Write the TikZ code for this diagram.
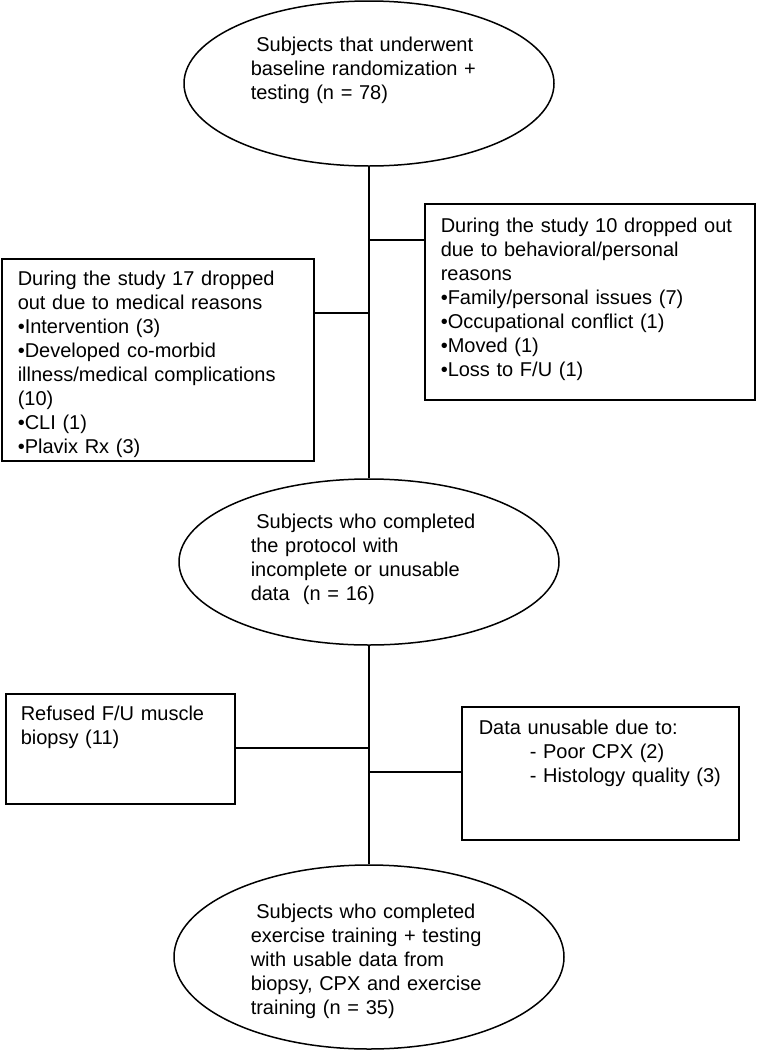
\documentclass[tikz,border=0pt]{standalone}
\usepackage{fontspec}
\setmainfont{Liberation Sans}
\usetikzlibrary{shapes.geometric}
\begin{document}
\begin{tikzpicture}[x=1pt,y=-1pt,
  line width=1.5pt,
  oval/.style={draw,ellipse,inner sep=0pt},
  boxnode/.style={draw,rectangle,inner sep=0pt,anchor=north west},
  txt/.style={anchor=base west,inner sep=0pt,align=left,text width=#1,
    font=\fontsize{20}{24}\selectfont},
  txt/.default=300pt
]
\useasboundingbox (0,0) rectangle (756,1050);
% ellipses
\node[oval,minimum width=370pt,minimum height=165pt] (e1) at (369,83.5) {};
\node[oval,minimum width=380pt,minimum height=166pt] (e2) at (369,562) {};
\node[oval,minimum width=390pt,minimum height=184pt] (e3) at (369,957) {};
% boxes
\node[boxnode,minimum width=330pt,minimum height=196pt] (rb1) at (424,203) {};
\node[boxnode,minimum width=312pt,minimum height=202pt] (lb1) at (1,258) {};
\node[boxnode,minimum width=229pt,minimum height=110pt] (lb2) at (5,693) {};
\node[boxnode,minimum width=277pt,minimum height=133pt] (rb2) at (461,706) {};
% texts
\node[txt] (e1t) at (250,51) {\hspace*{5.6pt}Subjects that underwent\\baseline randomization +\\testing (n = 78)};
\node[txt] (e2t) at (250,528) {\hspace*{5.6pt}Subjects who completed\\the protocol with\\incomplete or unusable\\data~ (n = 16)};
\node[txt] (e3t) at (250,918) {\hspace*{5.6pt}Subjects who completed\\exercise training + testing\\with usable data from\\biopsy, CPX and exercise\\training (n = 35)};
\node[txt=310pt] (rb1t) at (440,232) {During the study 10 dropped out\\due to behavioral/personal\\reasons\\•Family/personal issues (7)\\•Occupational conflict (1)\\•Moved (1)\\•Loss to F/U (1)};
\node[txt] (lb1t) at (17,285) {During the study 17 dropped\\out due to medical reasons\\•Intervention (3)\\•Developed co-morbid\\illness/medical complications\\(10)\\•CLI (1)\\•Plavix Rx (3)};
\node[txt] (lb2t) at (20,720) {Refused F/U muscle\\biopsy (11)};
\node[txt=270pt] (rb2t) at (478,734) {Data unusable due to:\\\hspace*{51pt}- Poor CPX (2)\\\hspace*{51pt}- Histology quality (3)};
% connectors
\coordinate (j1) at (369,240);
\coordinate (j2) at (369,313);
\coordinate (j3) at (369,748);
\coordinate (j4) at (369,772);
\draw (e1.south) -- (e2.north);
\draw (e2.south) -- (e3.north);
\draw (rb1.west |- j1) -- (j1);
\draw (lb1.east |- j2) -- (j2);
\draw (lb2.east |- j3) -- (j3);
\draw (rb2.west |- j4) -- (j4);
\end{tikzpicture}
\end{document}
